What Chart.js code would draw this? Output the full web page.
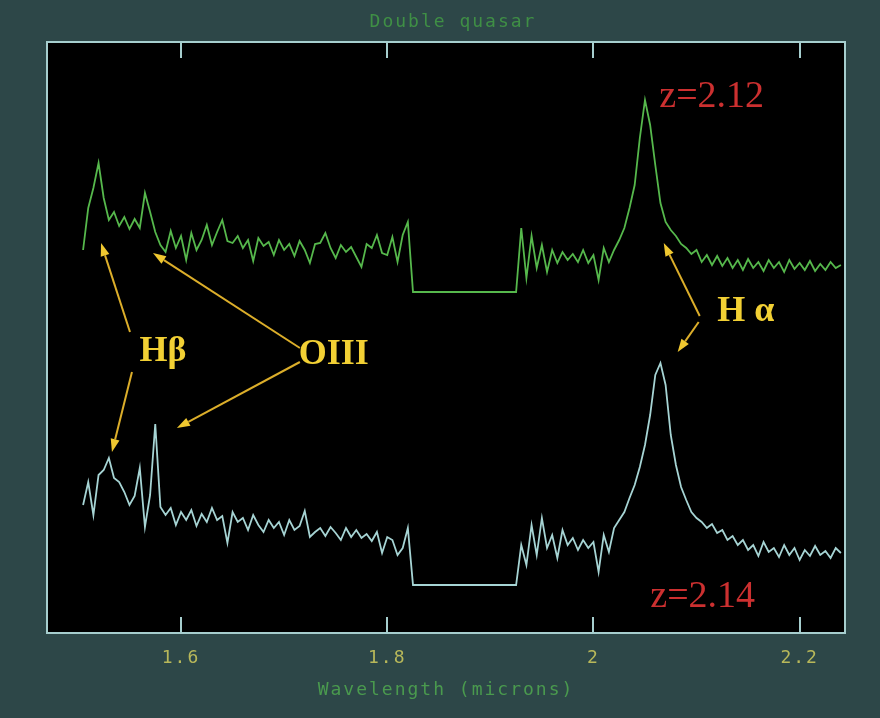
<!DOCTYPE html>
<html><head><meta charset="utf-8">
<script src="https://cdn.jsdelivr.net/npm/chart.js@4"></script>
<style>html,body{margin:0;padding:0;background:#2d4748;overflow:hidden}</style>
</head><body>
<canvas id="c" width="880" height="718"></canvas>
<script>
// Wavelength grid (microns)
const wavelength = [
1.505,1.51,1.515,1.52,1.525,1.53,1.535,1.54,1.545,1.55,
1.555,1.56,1.565,1.57,1.575,1.58,1.585,1.59,1.595,1.6,
1.605,1.61,1.615,1.62,1.625,1.63,1.635,1.64,1.645,1.65,
1.655,1.66,1.665,1.67,1.675,1.68,1.685,1.69,1.695,1.7,
1.705,1.71,1.715,1.72,1.725,1.73,1.735,1.74,1.745,1.75,
1.755,1.76,1.765,1.77,1.775,1.78,1.785,1.79,1.795,1.8,
1.805,1.81,1.815,1.82,1.825,1.83,1.835,1.84,1.845,1.85,
1.855,1.86,1.865,1.87,1.875,1.88,1.885,1.89,1.895,1.9,
1.905,1.91,1.915,1.92,1.925,1.93,1.935,1.94,1.945,1.95,
1.955,1.96,1.965,1.97,1.975,1.98,1.985,1.99,1.995,2.0,
2.005,2.01,2.015,2.02,2.025,2.03,2.035,2.04,2.045,2.05,
2.055,2.06,2.065,2.07,2.075,2.08,2.085,2.09,2.095,2.1,
2.105,2.11,2.115,2.12,2.125,2.13,2.135,2.14,2.145,2.15,
2.155,2.16,2.165,2.17,2.175,2.18,2.185,2.19,2.195,2.2,
2.205,2.21,2.215,2.22,2.225,2.23,2.235,2.24];

// Quasar A (z=2.12), offset flux, arbitrary units
const fluxA = [
38.3,42.5,44.5,47.0,43.5,41.3,42.1,40.7,41.6,40.4,
41.4,40.5,44.0,42.1,40.1,38.8,38.1,40.2,38.5,39.7,
37.3,40.0,38.3,39.3,40.8,38.8,40.1,41.3,39.2,39.0,
39.7,38.5,39.3,37.2,39.5,38.7,39.1,37.8,39.3,38.3,
38.9,37.7,39.2,38.3,37.0,38.9,39.0,40.0,38.5,37.5,
38.8,38.1,38.6,37.6,36.6,38.9,38.5,39.8,38.0,37.8,
39.6,37.1,39.8,41.1,34.1,34.1,34.1,34.1,34.1,34.1,
34.1,34.1,34.1,34.1,34.1,34.1,34.1,34.1,34.1,34.1,
34.1,34.1,34.1,34.1,34.1,40.5,35.5,39.7,36.5,38.8,
36.1,38.3,37.0,38.1,37.3,37.9,37.1,38.3,37.0,37.8,
35.3,38.5,37.1,38.3,39.3,40.5,42.5,44.8,49.5,53.3,
50.8,46.8,43.0,41.1,40.3,39.7,38.9,38.5,37.9,38.3,
37.1,37.8,36.8,37.7,36.7,37.5,36.5,37.3,36.3,37.4,
36.5,37.1,36.2,37.3,36.5,37.1,36.1,37.3,36.4,37.0,
36.3,37.2,36.2,36.9,36.3,37.1,36.5,36.8];

// Quasar B (z=2.14)
const fluxB = [
12.8,15.1,11.8,15.8,16.3,17.5,15.5,15.1,14.1,12.8,
13.7,16.5,10.6,13.8,20.9,12.6,11.8,12.5,10.8,12.1,
11.3,12.3,10.7,11.9,11.1,12.5,11.3,11.7,9.0,12.1,
11.1,11.5,10.3,11.8,10.8,10.1,11.3,10.5,11.1,9.8,
11.3,10.3,10.7,12.2,9.6,10.1,10.5,9.7,10.6,10.0,
9.3,10.5,9.6,10.3,9.5,9.9,9.2,10.1,8.0,9.6,
9.3,7.8,8.5,10.5,4.8,4.8,4.8,4.8,4.8,4.8,
4.8,4.8,4.8,4.8,4.8,4.8,4.8,4.8,4.8,4.8,
4.8,4.8,4.8,4.8,4.8,8.8,6.8,10.8,7.8,11.5,
8.5,9.8,7.5,10.3,8.8,9.5,8.3,9.3,8.5,9.1,
6.1,9.8,8.1,10.5,11.3,12.1,13.5,14.8,16.6,18.8,
21.8,25.8,27.0,24.8,19.8,16.8,14.6,13.3,12.1,11.5,
11.1,10.5,10.9,10.0,10.3,9.3,9.7,8.8,9.3,8.3,
8.8,7.7,9.1,8.1,8.5,7.6,8.8,7.8,8.5,7.3,
8.3,7.7,8.7,7.8,8.2,7.5,8.5,8.0];

const tickValues = [1.6, 1.8, 2.0, 2.2];
const tickLabels = ['1.6', '1.8', '2', '2.2'];

// Annotation labels and arrows (in data coordinates)
const labelTexts = ['Hβ', 'OIII', 'H α', 'z=2.12', 'z=2.14'];
const labelPos = [[1.5825, 28.1], [1.7482, 27.8], [2.1477, 32.1], [2.1147, 53.6], [2.106, 3.6]];
const arrows = [
  [[1.5505, 30.1], [1.5224, 39.0]],
  [[1.5524, 26.1], [1.5330, 18.1]],
  [[1.7153, 28.5], [1.5728, 38.0]],
  [[1.7153, 27.1], [1.5960, 20.5]],
  [[2.1031, 31.7], [2.0682, 39.0]],
  [[2.1021, 31.1], [2.0817, 28.1]]
];

const MONO = '"DejaVu Sans Mono", monospace';
const SERIF = '"Liberation Serif", "DejaVu Serif", serif';

const decor = {
  id: 'decor',
  beforeDraw(chart) {
    const {ctx, chartArea: a} = chart;
    ctx.save();
    ctx.fillStyle = '#2d4748';
    ctx.fillRect(0, 0, chart.width, chart.height);
    ctx.fillStyle = '#000000';
    ctx.fillRect(a.left, a.top, a.right - a.left, a.bottom - a.top);
    ctx.restore();
    ctx.letterSpacing = '2px';
  },
  afterDraw(chart) {
    const {ctx, chartArea: a, scales: {x, y}} = chart;
    ctx.save();
    ctx.strokeStyle = '#a6cece';
    ctx.lineWidth = 2;
    ctx.strokeRect(a.left, a.top, a.right - a.left, a.bottom - a.top);
    ctx.beginPath();
    x.ticks.forEach(t => {
      const px = Math.round(x.getPixelForValue(t.value));
      ctx.moveTo(px, a.top); ctx.lineTo(px, a.top + 16);
      ctx.moveTo(px, a.bottom); ctx.lineTo(px, a.bottom - 16);
    });
    ctx.stroke();

    // arrows
    ctx.strokeStyle = '#dcae2a';
    ctx.fillStyle = '#f0c830';
    ctx.lineWidth = 2;
    arrows.forEach(([tail, tip]) => {
      const x0 = x.getPixelForValue(tail[0]), y0 = y.getPixelForValue(tail[1]);
      const x1 = x.getPixelForValue(tip[0]), y1 = y.getPixelForValue(tip[1]);
      const ang = Math.atan2(y1 - y0, x1 - x0);
      const L = 13, W = 4.5;
      const bx = x1 - L * Math.cos(ang), by = y1 - L * Math.sin(ang);
      ctx.beginPath(); ctx.moveTo(x0, y0); ctx.lineTo(bx, by); ctx.stroke();
      ctx.beginPath();
      ctx.moveTo(x1, y1);
      ctx.lineTo(bx + W * Math.sin(ang), by - W * Math.cos(ang));
      ctx.lineTo(bx - W * Math.sin(ang), by + W * Math.cos(ang));
      ctx.closePath(); ctx.fill();
    });

    // labels
    ctx.letterSpacing = '0px';
    ctx.textAlign = 'center';
    ctx.textBaseline = 'middle';
    labelTexts.forEach((t, i) => {
      const isZ = t.startsWith('z=');
      ctx.font = isZ ? ('38px ' + SERIF) : ('bold 36px ' + SERIF);
      ctx.fillStyle = isZ ? '#cc3030' : '#f2d034';
      ctx.fillText(t, x.getPixelForValue(labelPos[i][0]), y.getPixelForValue(labelPos[i][1]));
    });

    // title
    ctx.letterSpacing = '2px';
    ctx.font = '18px ' + MONO;
    ctx.fillStyle = '#3f8f45';
    ctx.fillText('Double quasar', 453, 22);
    ctx.restore();
  }
};

new Chart(document.getElementById('c'), {
  type: 'line',
  data: {
    datasets: [
      { label: 'z=2.12', data: wavelength.map((w, i) => ({x: w, y: fluxA[i]})),
        borderColor: '#56b84c', borderWidth: 1.8, pointRadius: 0, tension: 0 },
      { label: 'z=2.14', data: wavelength.map((w, i) => ({x: w, y: fluxB[i]})),
        borderColor: '#a6d4d4', borderWidth: 1.8, pointRadius: 0, tension: 0 }
    ]
  },
  options: {
    responsive: false,
    animation: false,
    devicePixelRatio: 1,
    layout: { padding: { left: 47, right: 35, top: 42, bottom: 0 } },
    plugins: { legend: { display: false }, title: { display: false }, tooltip: { enabled: false } },
    scales: {
      x: {
        type: 'linear', min: 1.47, max: 2.244,
        afterBuildTicks: s => { s.ticks = tickValues.map(v => ({value: v})); },
        afterFit: s => { s.height = 85; },
        grid: { display: false, drawTicks: false },
        border: { display: false },
        ticks: {
          color: '#b8b85a', font: { family: MONO, size: 18 }, padding: 15,
          maxRotation: 0, autoSkip: false,
          callback: (v, i) => tickLabels[i]
        },
        title: {
          display: true, text: 'Wavelength (microns)', color: '#4a9a4e',
          font: { family: MONO, size: 18 }, padding: { top: 0, bottom: 17 }
        }
      },
      y: { type: 'linear', min: 0, max: 59.1, display: false }
    }
  },
  plugins: [decor]
});
</script>
</body></html>
